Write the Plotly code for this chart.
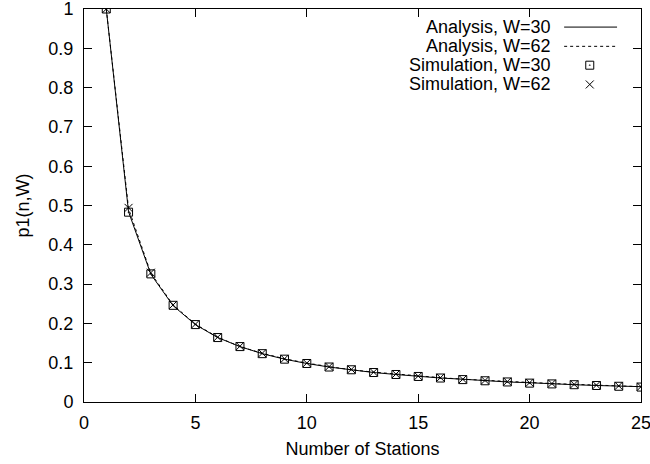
import plotly.graph_objects as go

# Number of contending stations
stations = list(range(1, 26))

# Analytical p1(n, W) for two contention window sizes
analysis_w30 = [1.0, 0.484, 0.325, 0.245, 0.197, 0.164, 0.141, 0.123, 0.109, 0.098,
                0.089, 0.082, 0.075, 0.070, 0.065, 0.061, 0.058, 0.054, 0.051, 0.049,
                0.046, 0.044, 0.042, 0.040, 0.039]
analysis_w62 = [1.0, 0.492, 0.328, 0.247, 0.198, 0.165, 0.141, 0.124, 0.110, 0.099,
                0.090, 0.082, 0.076, 0.071, 0.066, 0.062, 0.058, 0.055, 0.052, 0.049,
                0.047, 0.045, 0.043, 0.041, 0.039]

# Simulated p1(n, W)
simulation_w30 = [1.0, 0.483, 0.326, 0.246, 0.197, 0.164, 0.141, 0.123, 0.109, 0.098,
                  0.089, 0.082, 0.075, 0.070, 0.065, 0.061, 0.057, 0.054, 0.051, 0.048,
                  0.046, 0.044, 0.042, 0.040, 0.038]
simulation_w62 = [1.0, 0.494, 0.329, 0.247, 0.198, 0.165, 0.142, 0.124, 0.110, 0.099,
                  0.090, 0.083, 0.076, 0.071, 0.066, 0.062, 0.058, 0.055, 0.052, 0.049,
                  0.047, 0.045, 0.043, 0.041, 0.039]

legend_labels = ["Analysis, W=30", "Analysis, W=62", "Simulation, W=30", "Simulation, W=62"]

x_ticks = [0, 5, 10, 15, 20, 25]
y_ticks = [0, 0.1, 0.2, 0.3, 0.4, 0.5, 0.6, 0.7, 0.8, 0.9, 1]
y_ticktext = ["0", "0.1", "0.2", "0.3", "0.4", "0.5", "0.6", "0.7", "0.8", "0.9", "1"]

FONT = "Liberation Sans, Arial, Helvetica, sans-serif"
FS = 18
LINE_STYLE = [dict(color="black", width=1), dict(color="black", width=1, dash="dot")]
SQUARE = dict(symbol="square-open-dot", size=8, color="black", line=dict(width=1, color="black"))
CROSS = dict(symbol="x-thin-open", size=8, color="black", line=dict(width=1, color="black"))

fig = go.Figure()

fig.add_trace(go.Scatter(x=stations, y=analysis_w30, mode="lines", line=LINE_STYLE[0],
                         showlegend=False))
fig.add_trace(go.Scatter(x=stations, y=analysis_w62, mode="lines", line=LINE_STYLE[1],
                         showlegend=False))
fig.add_trace(go.Scatter(x=stations, y=simulation_w30, mode="markers", marker=SQUARE,
                         showlegend=False))
fig.add_trace(go.Scatter(x=stations, y=simulation_w62, mode="markers", marker=CROSS,
                         showlegend=False))

# Key in the upper-right corner: label text to the left of each sample
key_rows = [0.954, 0.905, 0.857, 0.808]
key_x0, key_x1, key_xm, key_text_x = 0.862, 0.957, 0.908, 0.840
fig.add_trace(go.Scatter(x=[key_x0, key_x1], y=[key_rows[0]] * 2, mode="lines",
                         line=LINE_STYLE[0], xaxis="x2", yaxis="y2", showlegend=False))
fig.add_trace(go.Scatter(x=[key_x0, key_x1], y=[key_rows[1]] * 2, mode="lines",
                         line=LINE_STYLE[1], xaxis="x2", yaxis="y2", showlegend=False))
fig.add_trace(go.Scatter(x=[key_xm], y=[key_rows[2]], mode="markers", marker=SQUARE,
                         xaxis="x2", yaxis="y2", showlegend=False))
fig.add_trace(go.Scatter(x=[key_xm], y=[key_rows[3]], mode="markers", marker=CROSS,
                         xaxis="x2", yaxis="y2", showlegend=False))

for label, row in zip(legend_labels, key_rows):
    fig.add_annotation(x=key_text_x, y=row, xref="paper", yref="paper", text=label,
                       showarrow=False, xanchor="right", yanchor="middle",
                       borderpad=0, font=dict(family=FONT, size=FS, color="black"))

axis_common = dict(
    showline=True, linecolor="black", linewidth=1, mirror="allticks",
    ticks="inside", ticklen=8, tickwidth=1, tickcolor="black",
    showgrid=False, zeroline=False, automargin=False, ticklabeloverflow="allow",
    tickfont=dict(family=FONT, size=FS, color="black"),
)

fig.update_layout(
    width=650, height=464,
    margin=dict(l=84, r=9, t=9, b=62),
    paper_bgcolor="white", plot_bgcolor="white",
    font=dict(family=FONT, size=FS, color="black"),
    xaxis=dict(range=[0, 25], tickvals=x_ticks, ticklabelstandoff=4,
               title=dict(text="Number of Stations", font=dict(family=FONT, size=FS),
                          standoff=10),
               **axis_common),
    yaxis=dict(range=[0, 1], tickvals=y_ticks, ticktext=y_ticktext, ticklabelstandoff=6,
               title=dict(text="p1(n,W)", font=dict(family=FONT, size=FS), standoff=14),
               **axis_common),
    xaxis2=dict(overlaying="x", range=[0, 1], visible=False),
    yaxis2=dict(overlaying="y", range=[0, 1], visible=False),
)

fig.write_html("out.html")
